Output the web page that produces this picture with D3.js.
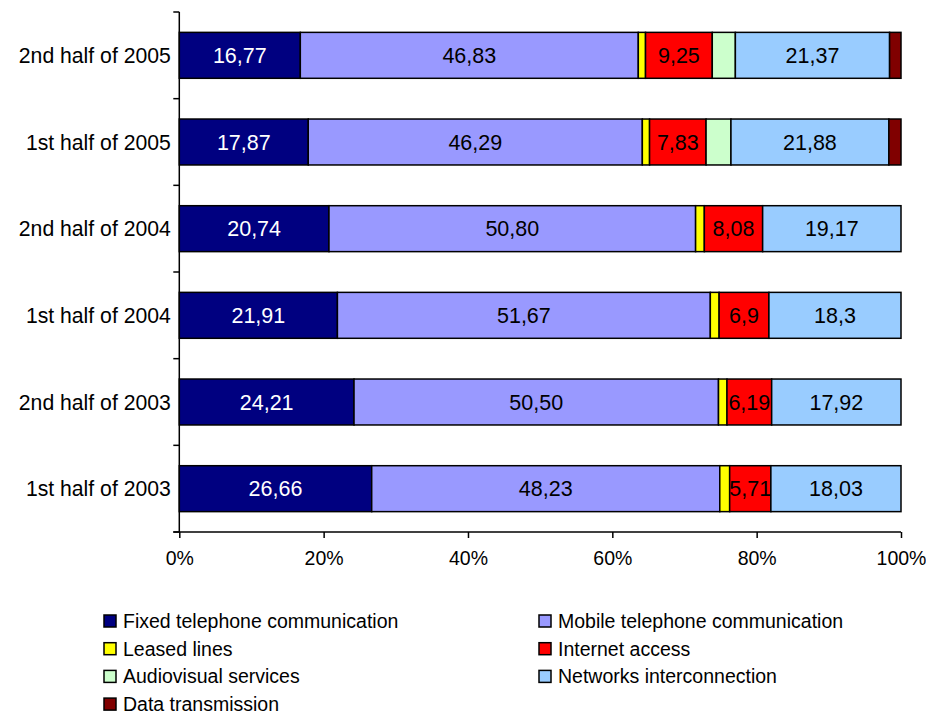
<!DOCTYPE html>
<html>
<head>
<meta charset="utf-8">
<script src="https://cdn.jsdelivr.net/npm/d3@7"></script>
<style>
  html, body { margin: 0; padding: 0; background: #fff; }
  svg { display: block; font-family: "Liberation Sans", Arial, sans-serif; }
</style>
</head>
<body>
<svg id="chart" width="926" height="715"></svg>
<script>
// Revenue structure by service (percent of total), half-year periods
const categories = [
  "2nd half of 2005", "1st half of 2005", "2nd half of 2004",
  "1st half of 2004", "2nd half of 2003", "1st half of 2003"
];
const fixedTelephone   = [16.77, 17.87, 20.74, 21.91, 24.21, 26.66];
const mobileTelephone  = [46.83, 46.29, 50.80, 51.67, 50.50, 48.23];
const leasedLines      = [1.00, 1.00, 1.21, 1.22, 1.18, 1.37];
const internetAccess   = [9.25, 7.83, 8.08, 6.9, 6.19, 5.71];
const audiovisual      = [3.20, 3.45, 0, 0, 0, 0];
const networks         = [21.37, 21.88, 19.17, 18.3, 17.92, 18.03];
const dataTransmission = [1.58, 1.68, 0, 0, 0, 0];
const xTicks = [0, 20, 40, 60, 80, 100];

const seriesNames = [
  "Fixed telephone communication", "Mobile telephone communication",
  "Leased lines", "Internet access", "Audiovisual services",
  "Networks interconnection", "Data transmission"
];
const seriesValues = [fixedTelephone, mobileTelephone, leasedLines, internetAccess,
                      audiovisual, networks, dataTransmission];
const seriesColors = ["#000080", "#9999FF", "#FFFF00", "#FF0000", "#CCFFCC", "#99CCFF", "#800000"];
const labelled     = [true, true, false, true, false, true, false];
const labelColors  = ["#fff", "#000", "#000", "#000", "#000", "#000", "#000"];
const twoDecimals  = [true, true, false, false, false, false, false];

const keys = seriesNames;
const table = categories.map((c, i) => {
  const row = { category: c };
  keys.forEach((k, j) => row[k] = seriesValues[j][i]);
  return row;
});
const stacked = d3.stack().keys(keys)(table);

const svg = d3.select("#chart");
const plotLeft = 179.3, plotRight = 901, plotTop = 12, plotBottom = 532;

const x = d3.scaleLinear().domain([0, 100]).range([plotLeft, plotRight]);
const y = d3.scaleBand().domain(categories).range([plotTop, plotBottom]).paddingInner(0.47).paddingOuter(0.235);

const fmt = (v, j) => (twoDecimals[j] ? v.toFixed(2) : String(+v.toFixed(2))).replace(".", ",");

// bar segments
const layers = svg.append("g").selectAll("g").data(stacked).join("g")
  .attr("fill", (d, j) => seriesColors[j]);
layers.selectAll("rect").data(d => d.filter(p => p[1] - p[0] > 0)).join("rect")
  .attr("x", p => x(p[0]))
  .attr("y", p => y(p.data.category))
  .attr("width", p => x(p[1]) - x(p[0]))
  .attr("height", y.bandwidth())
  .attr("stroke", "#000")
  .attr("stroke-width", 1.5);

// value labels
stacked.forEach((layer, j) => {
  if (!labelled[j]) return;
  svg.append("g").selectAll("text").data(layer).join("text")
    .attr("x", p => (x(p[0]) + x(p[1])) / 2)
    .attr("y", p => y(p.data.category) + y.bandwidth() / 2)
    .attr("dy", "0.36em")
    .attr("text-anchor", "middle")
    .attr("font-size", 21.5)
    .attr("fill", labelColors[j])
    .text(p => fmt(p[1] - p[0], j));
});

// y axis with ticks at band boundaries
const yAxisG = svg.append("g");
yAxisG.append("line").attr("x1", plotLeft).attr("x2", plotLeft).attr("y1", plotTop).attr("y2", plotBottom)
  .attr("stroke", "#000").attr("stroke-width", 1.5);
const step = y.step();
d3.range(categories.length + 1).forEach(i => {
  const yy = plotTop + i * step;
  yAxisG.append("line").attr("x1", plotLeft - 6).attr("x2", plotLeft).attr("y1", yy).attr("y2", yy)
    .attr("stroke", "#000").attr("stroke-width", 1.5);
});
yAxisG.selectAll("text").data(categories).join("text")
  .attr("x", plotLeft - 8.5)
  .attr("y", d => y(d) + y.bandwidth() / 2)
  .attr("dy", "0.36em")
  .attr("text-anchor", "end")
  .attr("font-size", 21.2)
  .text(d => d);

// x axis
const xAxis = d3.axisBottom(x).tickValues(xTicks).tickSize(6).tickPadding(13)
  .tickFormat(d => d + "%");
const xg = svg.append("g").attr("transform", `translate(0,${plotBottom})`).call(xAxis);
xg.select(".domain").remove();
xg.append("line").attr("x1", plotLeft - 6).attr("x2", plotRight).attr("stroke", "#000").attr("stroke-width", 1.5);
xg.selectAll(".tick line").attr("stroke", "#000").attr("stroke-width", 1.5);
xg.selectAll(".tick text").attr("font-size", 19.5).attr("font-family", "Liberation Sans, Arial, sans-serif").attr("fill", "#000");

// legend: two columns, filled row by row
const legendX = [104, 539], legendY0 = 621, legendStep = 27.7;
const lg = svg.append("g").selectAll("g").data(seriesNames).join("g")
  .attr("transform", (d, i) => `translate(${legendX[i % 2]},${legendY0 + Math.floor(i / 2) * legendStep})`);
lg.append("rect").attr("x", 0).attr("y", -6).attr("width", 12).attr("height", 12)
  .attr("fill", (d, i) => seriesColors[i]).attr("stroke", "#000").attr("stroke-width", 1.5);
lg.append("text").attr("x", 19).attr("dy", "0.36em").attr("font-size", 19.5).text(d => d);
</script>
</body>
</html>
